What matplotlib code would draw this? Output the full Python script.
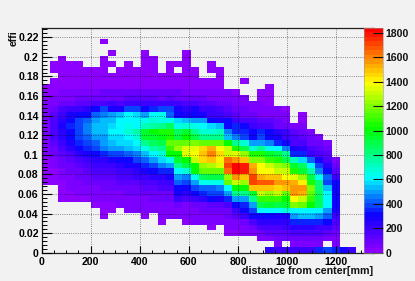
import numpy as np
import matplotlib
matplotlib.use("Agg")
import matplotlib.pyplot as plt
from matplotlib.colors import LinearSegmentedColormap
from matplotlib.ticker import MultipleLocator

plt.rcParams['font.family'] = ['Liberation Sans', 'DejaVu Sans']
plt.rcParams['font.weight'] = 'bold'

# histogram binning
x_max = 1350
y_max = 0.23
n_bins = 40

# counts per cell, top row first, 0 = empty cell
r37 = [0,0,0,0,0,0,0,15,0,0,0,0,0,0,0,0,0,0,0,0,0,0,0,0,0,0,0,0,0,0,0,0,0,0,0,0,0,0,0,0]
r36 = [0]*40
r35 = [0,0,0,0,0,0,0,0,15,0,0,0,15,0,0,0,0,15,0,0,0,0,0,0,0,0,0,0,0,0,0,0,0,0,0,0,0,0,0,0]
r34 = [0,0,15,0,0,0,0,15,0,0,0,0,15,15,0,0,0,15,0,0,0,0,0,0,0,0,0,0,0,0,0,0,0,0,0,0,0,0,0,0]
r33 = [0,15,15,15,15,0,0,15,15,0,15,0,15,15,0,15,15,15,0,0,15,0,0,0,0,0,0,0,0,0,0,0,0,0,0,0,0,0,0,0]
r32 = [0,15,15,15,15,15,15,15,0,15,15,15,15,15,0,15,0,15,15,0,15,15,0,0,0,0,0,0,0,0,0,0,0,0,0,0,0,0,0,0]
r31 = [0,0,15,15,15,15,15,15,15,15,15,15,15,15,15,15,15,15,15,0,0,15,0,0,0,0,0,0,0,0,0,0,0,0,0,0,0,0,0,0]
r30 = [0,15,15,15,15,15,15,20,20,20,20,20,20,20,20,20,20,20,15,15,15,15,0,0,15,0,0,0,0,0,0,0,0,0,0,0,0,0,0,0]
r29 = [15,15,20,20,20,20,25,25,25,25,25,25,25,25,25,25,25,25,20,20,20,15,0,0,0,0,0,15,0,0,0,0,0,0,0,0,0,0,0,0]
r28 = [20,30,40,50,60,60,70,80,80,80,90,90,90,80,80,80,80,70,60,50,50,40,40,30,0,0,20,20,0,0,0,0,0,0,0,0,0,0,0,0]
r27 = [30,50,60,70,80,90,100,110,100,110,120,130,130,120,110,120,110,100,90,80,70,60,50,50,40,0,30,20,0,0,0,0,0,0,0,0,0,0,0,0]
r26 = [40,70,90,110,120,140,160,180,200,180,200,220,200,200,210,220,190,160,170,140,120,100,80,70,60,50,40,30,0,0,0,0,0,0,0,0,0,0,0,0]
r25 = [50,100,150,200,210,230,300,370,280,260,400,380,300,350,370,400,290,240,270,210,190,150,120,100,80,70,60,50,40,30,0,0,0,0,0,0,0,0,0,0]
r24 = [60,130,220,280,310,330,410,470,490,540,620,560,500,620,640,420,300,260,300,260,220,200,170,130,90,80,70,60,50,40,0,20,0,0,0,0,0,0,0,0]
r23 = [70,150,250,320,390,430,490,520,530,600,620,600,640,680,640,640,560,520,500,480,300,280,300,200,180,150,130,120,90,60,0,30,0,0,0,0,0,0,0,0]
r22 = [70,150,260,340,380,470,530,540,580,610,660,620,720,760,780,850,650,700,650,600,560,530,300,340,320,200,170,150,110,80,50,40,0,0,0,0,0,0,0,0]
r21 = [70,150,240,320,380,450,530,540,610,620,680,740,950,1000,1050,1050,850,950,800,700,680,720,450,350,350,300,350,300,250,200,120,100,70,0,0,0,0,0,0,0]
r20 = [60,150,240,310,370,430,500,510,560,590,620,700,940,950,980,1050,900,1000,900,800,780,800,520,450,400,320,400,300,280,220,170,130,100,70,0,0,0,0,0,0]
r19 = [60,130,210,290,340,380,430,490,520,560,580,620,800,850,900,1150,1180,1150,1200,1180,1180,1150,1000,800,700,500,500,450,350,300,170,150,110,80,60,0,0,0,0,0]
r18 = [50,100,160,240,310,350,400,470,500,500,520,560,640,750,800,1100,1250,1350,1350,1450,1520,1400,1300,1050,900,700,800,650,620,450,280,230,170,130,90,0,0,0,0,0]
r17 = [40,80,120,180,230,270,300,350,380,400,430,460,530,600,680,1000,1000,1350,1380,1500,1600,1450,1300,1350,1250,1050,1050,950,900,800,350,350,220,170,120,0,0,0,0,0]
r16 = [25,60,90,130,170,210,230,250,280,300,330,370,430,480,570,650,950,1000,1300,1450,1500,1430,1650,1550,1500,1200,1200,1100,1050,900,720,580,430,270,170,70,0,0,0,0]
r15 = [20,45,75,100,130,170,190,210,220,240,260,290,340,380,450,500,800,900,1000,1250,1280,1350,1700,1830,1800,1520,1400,1300,1250,1200,950,850,600,400,250,100,0,0,0,0]
r14 = [15,35,55,80,110,130,150,170,180,190,210,240,290,310,340,350,600,700,1000,1150,1150,1150,1650,1830,1800,1550,1400,1380,1320,1300,1050,950,750,450,320,140,0,0,0,0]
r13 = [10,25,40,60,80,100,120,130,140,150,170,190,220,240,250,260,500,450,650,880,900,900,1250,1550,1500,1700,1530,1500,1480,1400,1350,1250,900,650,420,200,0,0,0,0]
r12 = [8,20,35,50,70,80,100,100,110,120,130,140,170,180,190,200,430,380,500,640,650,630,1150,1300,1250,1720,1680,1680,1560,1550,1540,1420,1050,820,400,300,0,0,0,0]
r11 = [0,0,25,40,50,65,70,80,85,90,100,110,130,130,150,150,330,300,380,430,430,460,620,1000,1000,1500,1480,1500,1450,1480,1560,1550,1200,820,550,320,0,0,0,0]
r10 = [0,0,20,30,40,50,55,60,65,70,80,90,100,100,110,110,260,240,300,350,380,370,500,800,800,950,1300,1250,1300,1150,1550,1530,1150,850,600,320,0,0,0,0]
r9 = [0,0,15,25,30,35,40,45,50,55,60,65,70,75,80,80,200,170,220,250,300,280,350,480,480,800,1100,1100,1080,1000,1380,1300,1100,850,620,320,0,0,0,0]
r8 = [0,0,0,0,0,0,30,35,35,40,50,50,55,55,60,60,75,70,85,110,120,130,150,300,350,500,900,950,900,950,1200,1150,1000,850,620,320,0,0,0,0]
r7 = [0,0,0,0,0,0,0,25,25,0,40,40,45,45,50,50,60,60,70,80,80,90,110,200,300,400,600,620,600,680,620,620,620,600,500,280,0,0,0,0]
r6 = [0,0,0,0,0,0,0,20,0,0,0,0,30,0,40,40,45,45,50,60,60,70,80,120,200,300,300,300,280,280,500,520,520,480,430,220,0,0,0,0]
r5 = [0,0,0,0,0,0,0,0,0,0,0,0,0,0,25,0,0,30,40,40,45,50,60,70,100,180,230,230,240,230,350,350,350,350,300,180,0,0,0,0]
r4 = [0,0,0,0,0,0,0,0,0,0,0,0,0,0,0,0,0,0,0,0,25,0,40,50,70,100,150,170,170,200,230,230,240,220,200,120,0,0,0,0]
r3 = [0,0,0,0,0,0,0,0,0,0,0,0,0,0,0,0,0,0,0,0,0,0,20,30,40,60,100,120,130,130,170,170,170,150,130,80,0,0,0,0]
r2 = [0,0,0,0,0,0,0,0,0,0,0,0,0,0,0,0,0,0,0,0,0,0,0,0,0,0,40,50,80,80,100,100,110,100,70,50,0,0,0,0]
r1 = [0,0,0,0,0,0,0,0,0,0,0,0,0,0,0,0,0,0,0,0,0,0,0,0,0,0,0,0,40,0,60,70,70,60,0,40,0,0,0,0]
r0 = [0,0,0,0,0,0,0,0,0,0,0,0,0,0,0,0,0,0,0,0,0,0,0,0,0,0,0,250,200,200,200,220,200,350,400,350,280,200,0,0]

rows = [r0,r1,r2,r3,r4,r5,r6,r7,r8,r9,r10,r11,r12,r13,r14,r15,r16,r17,r18,r19,
        r20,r21,r22,r23,r24,r25,r26,r27,r28,r29,r30,r31,r32,r33,r34,r35,r36,r37,
        [0]*40,[0]*40]
counts = np.ma.masked_equal(np.array(rows), 0)

x_edges = np.linspace(0, x_max, n_bins + 1)
y_edges = np.linspace(0, y_max, n_bins + 1)

# ROOT rainbow palette, 50 colours
palette = LinearSegmentedColormap.from_list(
    "root", [(0, (0.55, 0, 1)), (0.16, (0.05, 0, 1)), (0.33, (0, 1, 1)),
             (0.55, (0, 1, 0)), (0.76, (1, 1, 0)), (1, (1, 0, 0))], N=50)

bg = '#f2f2f2'
W, H = 415, 281
fig = plt.figure(figsize=(W/100, H/100), dpi=100, facecolor=bg)
ax = fig.add_axes([41.5/W, 1-252.7/H, (373-41.5)/W, (252.7-27.5)/H], facecolor=bg)
mesh = ax.pcolormesh(x_edges, y_edges, counts, cmap=palette, vmin=0, vmax=1845)

ax.set_xlim(0, x_max)
ax.set_ylim(0, y_max)
ax.xaxis.set_major_locator(MultipleLocator(200))
ax.xaxis.set_minor_locator(MultipleLocator(50))
ax.yaxis.set_minor_locator(MultipleLocator(0.004))
ax.set_yticks(np.arange(0, 0.23, 0.02))
ax.set_yticklabels(['0','0.02','0.04','0.06','0.08','0.1','0.12','0.14','0.16','0.18','0.2','0.22'])
ax.tick_params(axis='x', which='major', direction='in', length=5, width=0.8, labelsize=7.6, pad=3)
ax.tick_params(axis='x', which='minor', direction='in', length=2.5, width=0.7)
ax.tick_params(axis='y', which='major', direction='in', length=7, width=0.8, labelsize=7.6, pad=2)
ax.tick_params(axis='y', which='minor', direction='in', length=3.5, width=0.7)
ax.set_axisbelow(False)
ax.grid(True, which='major', color='black', linestyle=':', linewidth=0.6, alpha=0.6)
for s in ax.spines.values():
    s.set_linewidth(0.9)
    s.set_color('#222222')

fig.text(373/W, 1-274.5/H, "distance from center[mm]", ha='right', va='baseline', fontsize=7.7, color='#111111')
fig.text(14/W, 1-30/H, "effi", ha='center', va='top', rotation=90, fontsize=7.6, color='#111111')

# palette drawn over right end of the frame
cax = fig.add_axes([364/W, 1-252.7/H, 19/W, (252.7-27.5)/H], zorder=5)
cb = fig.colorbar(mesh, cax=cax, ticks=np.arange(0, 1801, 200))
cb.ax.tick_params(direction='in', length=7, width=0.8, labelsize=7.6, pad=2, colors='#111111')
cb.outline.set_linewidth(0.4)
cb.outline.set_edgecolor('#999999')

fig.savefig("out.png", dpi=100, facecolor=bg)
